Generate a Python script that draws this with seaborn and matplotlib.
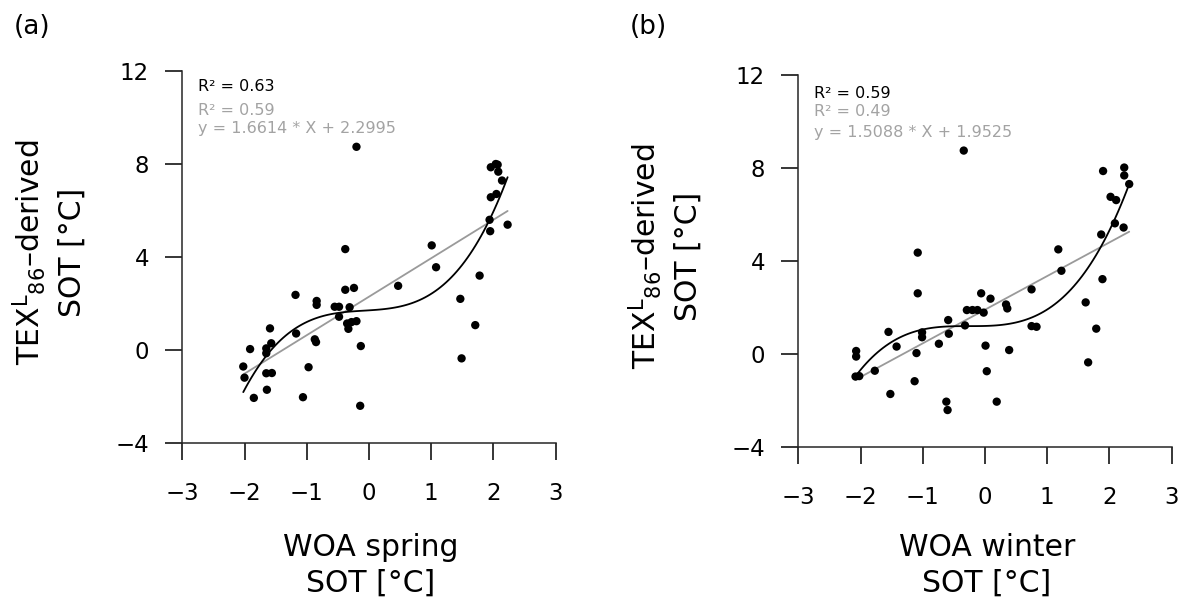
import matplotlib
matplotlib.use("Agg")
import matplotlib.pyplot as plt
import seaborn as sns
import numpy as np
import pandas as pd

# ---- data ----
spring_x = [-0.20, 1.96, 2.04, 2.07, 2.08, 2.14, 1.96, 2.05, 1.94, 1.95, 2.23,
            -0.38, 1.01, 1.08, 1.78, 0.47, -0.38, -0.24, -1.18, -0.84, -0.84,
            -0.55, -0.48, -0.31, -0.48, -0.35, -0.28, -0.20, -0.33, 1.47, 1.71,
            1.49, -0.13, -0.14, -1.59, -1.17, -0.87, -0.85, -1.57, -1.65, -1.65,
            -1.91, -2.02, -2.00, -1.65, -1.56, -0.97, -1.64, -1.85, -1.06]
spring_y = [8.74, 7.86, 8.00, 7.97, 7.67, 7.29, 6.57, 6.71, 5.60, 5.11, 5.39,
            4.34, 4.50, 3.56, 3.20, 2.76, 2.59, 2.67, 2.37, 2.11, 1.94,
            1.86, 1.86, 1.84, 1.43, 1.14, 1.20, 1.24, 0.91, 2.20, 1.07,
            -0.36, 0.17, -2.40, 0.93, 0.71, 0.46, 0.34, 0.29, 0.07, -0.14,
            0.04, -0.71, -1.19, -1.00, -0.99, -0.74, -1.71, -2.06, -2.03]

winter_x = [-0.34, 1.90, 2.24, 2.24, 2.32, 2.02, 2.11, 2.09, 2.23, 1.87, 1.89,
            1.18, 1.23, 1.62, 1.79, 1.66, -1.08, -1.08, 0.75, -0.06, 0.09,
            0.34, 0.36, -0.29, -0.20, -0.12, -0.02, -0.59, -0.32, 0.75, 0.83,
            -1.55, -1.01, -1.01, -1.42, -0.74, -0.58, 0.01, 0.39, -1.10, -2.07,
            -2.07, -2.08, -2.02, -1.77, 0.03, -1.13, -1.52, -0.62, -0.60, 0.19]
winter_y = [8.75, 7.87, 8.02, 7.68, 7.31, 6.76, 6.62, 5.62, 5.44, 5.14, 3.22,
            4.50, 3.58, 2.22, 1.09, -0.36, 4.36, 2.61, 2.78, 2.61, 2.38,
            2.13, 1.96, 1.89, 1.89, 1.89, 1.78, 1.46, 1.23, 1.20, 1.17,
            0.95, 0.93, 0.72, 0.32, 0.44, 0.87, 0.36, 0.17, 0.04, 0.13,
            -0.11, -0.97, -0.95, -0.72, -0.74, -1.17, -1.72, -2.05, -2.41, -2.05]

panel_labels = ["(a)", "(b)"]
x_labels = ["WOA spring", "WOA winter"]
r2_cubic = ["R\u00b2 = 0.63", "R\u00b2 = 0.59"]
r2_lin = ["R\u00b2 = 0.59", "R\u00b2 = 0.49"]
lin_eq = ["y = 1.6614 * X + 2.2995", "y = 1.5088 * X + 1.9525"]
x_ticks = [-3, -2, -1, 0, 1, 2, 3]
y_ticks = [-4, 0, 4, 8, 12]

sns.set_style("ticks")
plt.rcParams['font.family'] = ['DejaVu Sans']
plt.rcParams['mathtext.fontset'] = 'dejavusans'
plt.rcParams['text.color'] = 'black'
plt.rcParams['axes.labelcolor'] = 'black'

W, H = 1188, 606
fig = plt.figure(figsize=(W / 100, H / 100), dpi=100)

# axes rectangles in pixel coords: (left, top, right, bottom)
rects = [(182.3, 71, 555.5, 443), (798.3, 75, 1171.5, 447)]
# baselines (pixel y) of the three annotation lines per panel
ann_base = [(91, 115.5, 133.5), (97.5, 115.7, 136.5)]
datasets = [(spring_x, spring_y), (winter_x, winter_y)]

GRAY_TXT = "#a3a3a3"
GRAY_LN = "#9a9a9a"

for i, ((l, t, r, b), (xs, ys)) in enumerate(zip(rects, datasets)):
    ax = fig.add_axes([l / W, 1 - b / H, (r - l) / W, (b - t) / H])
    df = pd.DataFrame({"x": xs, "y": ys})
    sns.regplot(data=df, x="x", y="y", order=1, ci=None, scatter=False,
                color=GRAY_LN, line_kws={"lw": 1.3}, ax=ax)
    sns.regplot(data=df, x="x", y="y", order=3, ci=None, scatter=False,
                color="black", line_kws={"lw": 1.3}, ax=ax)
    sns.scatterplot(data=df, x="x", y="y", color="black", s=36,
                    edgecolor="none", ax=ax, zorder=3)
    ax.set_xlim(-3, 3)
    ax.set_ylim(-4, 12)
    ax.set_xticks(x_ticks)
    ax.set_yticks(y_ticks)
    ax.set_xlabel("")
    ax.set_ylabel("")
    for s in ["top", "right"]:
        ax.spines[s].set_visible(False)
    for s in ["left", "bottom"]:
        ax.spines[s].set_linewidth(1.1)
    ax.tick_params(axis="both", length=12, width=1.1, labelsize=16.5,
                   color="black", labelcolor="black")
    ax.tick_params(axis="x", pad=16)
    ax.tick_params(axis="y", pad=12)
    ax.patch.set_alpha(0)

    # annotations
    tx = (l + 16) / W
    b1, b2, b3 = ann_base[i]
    fig.text(tx, 1 - b1 / H, r2_cubic[i], fontsize=11.5, color="black",
             va="baseline", ha="left")
    fig.text(tx, 1 - b2 / H, r2_lin[i], fontsize=11.5, color=GRAY_TXT,
             va="baseline", ha="left")
    fig.text(tx, 1 - b3 / H, lin_eq[i], fontsize=11.5, color=GRAY_TXT,
             va="baseline", ha="left")

    cx = (l + r) / 2 + 2
    fig.text(cx / W, 1 - 548 / H, x_labels[i], fontsize=21.5,
             ha="center", va="center")
    fig.text(cx / W, 1 - 583 / H, "SOT [\u00b0C]", fontsize=21.5,
             ha="center", va="center")
    cy = (t + b) / 2 - 5
    fig.text((l - 153) / W, 1 - cy / H,
             r"TEX$^{\mathrm{L}}$$_{\mathrm{86}}$–derived", fontsize=21.5,
             rotation=90, ha="center", va="center")
    fig.text((l - 110) / W, 1 - cy / H, "SOT [\u00b0C]", fontsize=21.5,
             rotation=90, ha="center", va="center")
    fig.text((l - 169) / W, 1 - 27 / H, panel_labels[i], fontsize=19,
             ha="left", va="center")

fig.savefig("out.png", dpi=100)
